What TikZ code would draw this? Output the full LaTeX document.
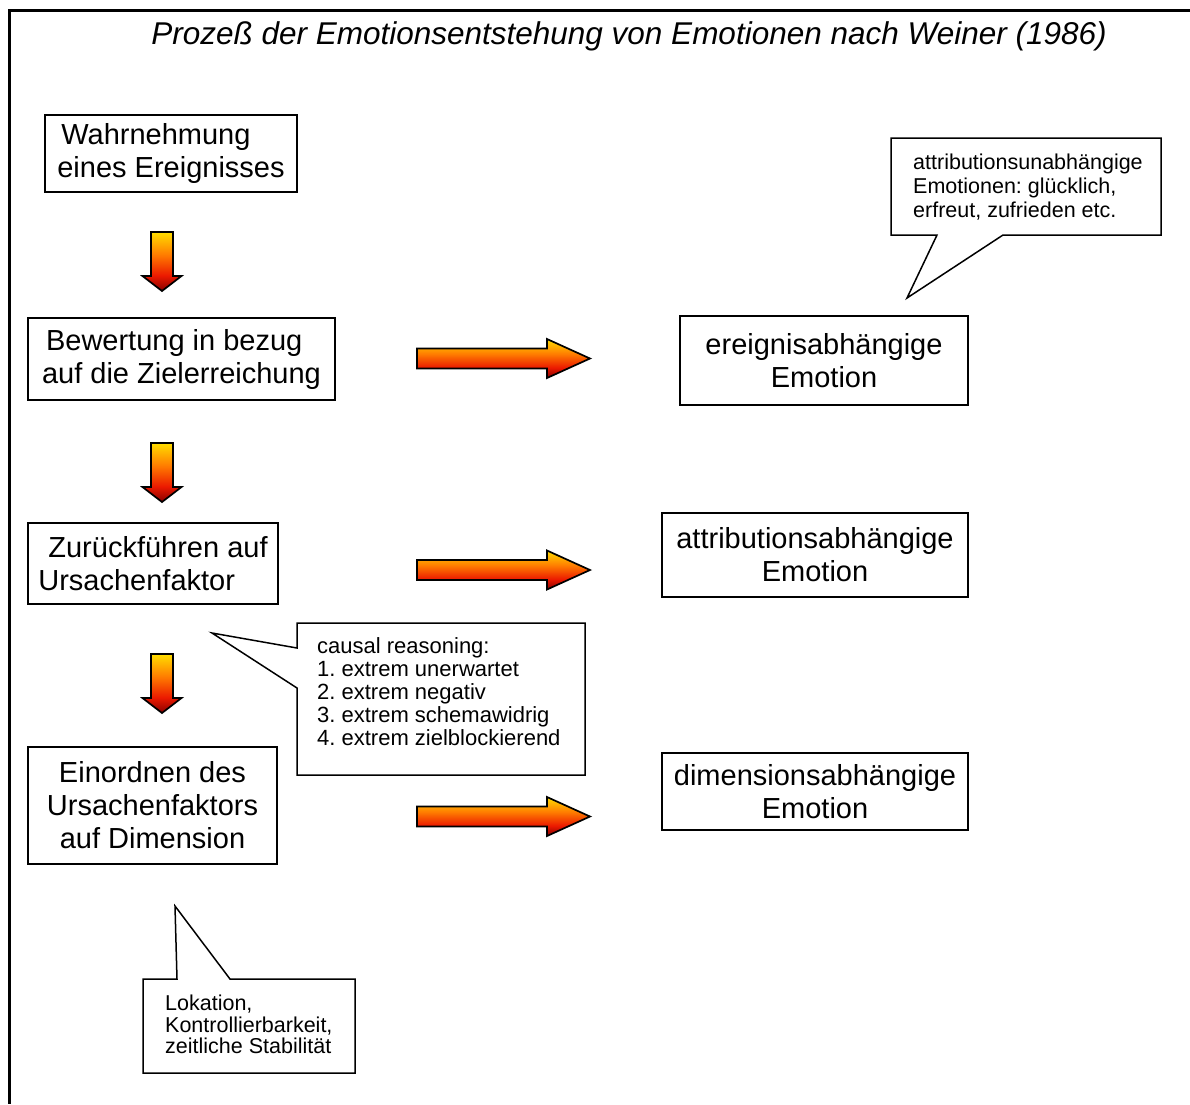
\documentclass[tikz,border=0pt]{standalone}
\usepackage{fontspec}
\setmainfont{Liberation Sans}
\frenchspacing
\definecolor{fireDark}{RGB}{135,0,0}
\definecolor{fireRed}{RGB}{235,25,0}
\definecolor{fireOrange}{RGB}{255,125,0}
\definecolor{fireYellow}{RGB}{255,222,0}
\pgfdeclareverticalshading{fire}{100bp}{color(0bp)=(fireDark); color(25bp)=(fireDark); color(38bp)=(fireRed); color(56bp)=(fireOrange); color(75bp)=(fireYellow); color(100bp)=(fireYellow)}
\tikzset{
  box/.style={draw, line width=1.6pt, rectangle, inner sep=0pt, font=\fontsize{29}{33}\selectfont},
  calloutline/.style={draw, line width=1.5pt, line join=miter},
  callouttext/.style={anchor=north west, align=left, inner sep=0pt},
  firearrow/.style={draw, line width=1.7pt, line join=miter, shade, shading=fire},
  frameline/.style={line width=3pt, line join=miter},
  titlefont/.style={font=\fontsize{31.5}{36}\selectfont\itshape},
  darrow/.pic={\path[firearrow] (-11,0) -- (11,0) -- (11,44) -- (19.5,44) -- (0,59) -- (-19.5,44) -- (-11,44) -- cycle;},
  rarrow/.pic={\path[firearrow] (0,-10) -- (130,-10) -- (130,-19.5) -- (173,0) -- (130,19.5) -- (130,10) -- (0,10) -- cycle;}
}
\begin{document}
\begin{tikzpicture}[x=1pt,y=-1pt]
\useasboundingbox (0,0) rectangle (1190,1104);
% frame
\draw[frameline] (1190,10) -- (9.5,10) -- (9.5,1104);
% title
\node[titlefont, anchor=base, inner sep=0pt] (title) at (629,44) {Prozeß der Emotionsentstehung von Emotionen nach Weiner (1986)};
% left column boxes
\node[box, minimum width=252pt, minimum height=77pt, align=left] (wahr) at (171,153.5) {\hspace*{4pt}Wahrnehmung\\eines Ereignisses};
\node[box, minimum width=307pt, minimum height=82pt, align=left] (bew) at (181.5,359) {\hspace*{4pt}Bewertung in bezug\\auf die Zielerreichung};
\node[box, minimum width=250pt, minimum height=81pt, align=left] (zur) at (153,563.5) {\hspace*{10pt}Zurückführen auf\\Ursachenfaktor};
\node[box, minimum width=249pt, minimum height=117pt, align=center] (ein) at (152.5,805.5) {Einordnen des\\Ursachenfaktors\\auf Dimension};
% right column boxes
\node[box, minimum width=288pt, minimum height=89pt, align=center] (ereig) at (824,360.5) {ereignisabhängige\\Emotion};
\node[box, minimum width=306pt, minimum height=84pt, align=center] (attr) at (815,555) {attributionsabhängige\\Emotion};
\node[box, minimum width=306pt, minimum height=77pt, align=center] (dim) at (815,791.5) {dimensionsabhängige\\Emotion};
% block arrows
\pic at (162,232) {darrow};
\pic at (162,443) {darrow};
\pic at (162,654) {darrow};
\pic at (417,358.5) {rarrow};
\pic at (417,570) {rarrow};
\pic at (417,816.5) {rarrow};
% callout A
\draw[calloutline] (891,138) -- (1161,138) -- (1161,235) -- (1003,235) -- (907,298) -- (937,235) -- (891,235) -- cycle;
\node[callouttext, font=\fontsize{21.5}{24}\selectfont] (calA) at (913,153.5) {attributionsunabhängige\\Emotionen: glücklich,\\erfreut, zufrieden etc.};
% callout B
\draw[calloutline] (297,623) -- (585,623) -- (585,775) -- (297,775) -- (297,688) -- (212,633) -- (297,648) -- cycle;
\node[callouttext, font=\fontsize{22}{23.2}\selectfont] (calB) at (317,637) {causal reasoning:\\1. extrem unerwartet\\2. extrem negativ\\3. extrem schemawidrig\\4. extrem zielblockierend};
% callout C
\draw[calloutline] (143,979) -- (177,979) -- (175,906) -- (230,979) -- (355,979) -- (355,1073) -- (143,1073) -- cycle;
\node[callouttext, font=\fontsize{21.5}{21.8}\selectfont] (calC) at (165,994.5) {Lokation,\\Kontrollierbarkeit,\\zeitliche Stabilität};
\end{tikzpicture}
\end{document}
